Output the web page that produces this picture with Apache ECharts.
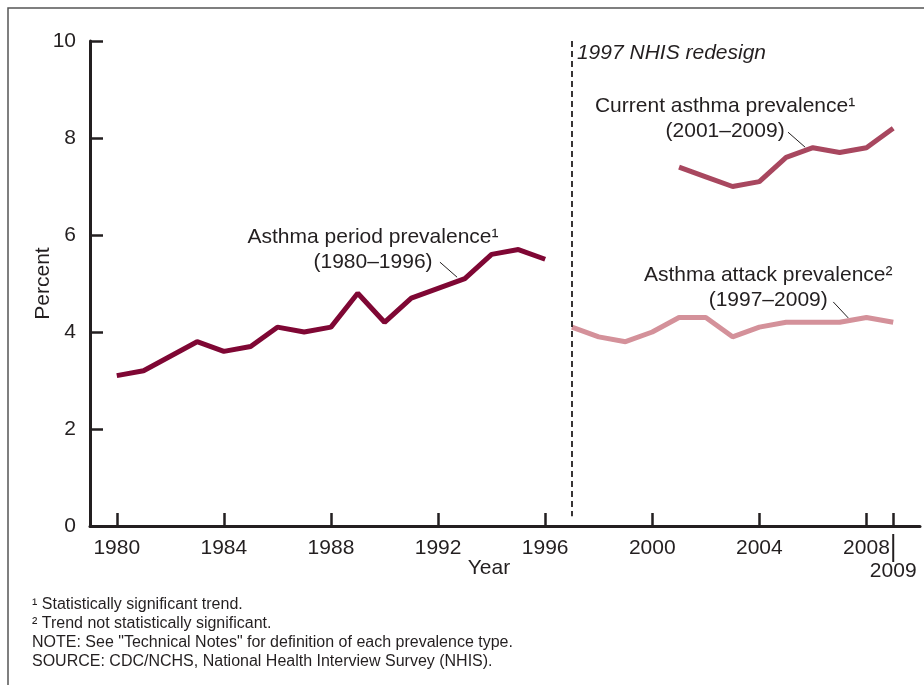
<!DOCTYPE html>
<html>
<head>
<meta charset="utf-8">
<script src="https://cdn.jsdelivr.net/npm/echarts@6/dist/echarts.min.js"></script>
<style>
html,body{margin:0;padding:0;background:#fff;}
#c{width:924px;height:685px;}
</style>
</head>
<body>
<div id="c"></div>
<script>
// ---- data ----
var periodYears = [1980,1981,1982,1983,1984,1985,1986,1987,1988,1989,1990,1991,1992,1993,1994,1995,1996];
var periodValues = [3.1,3.2,3.5,3.8,3.6,3.7,4.1,4.0,4.1,4.8,4.2,4.7,4.9,5.1,5.6,5.7,5.5];
var currentYears = [2001,2002,2003,2004,2005,2006,2007,2008,2009];
var currentValues = [7.4,7.2,7.0,7.1,7.6,7.8,7.7,7.8,8.2];
var attackYears = [1997,1998,1999,2000,2001,2002,2003,2004,2005,2006,2007,2008,2009];
var attackValues = [4.1,3.9,3.8,4.0,4.3,4.3,3.9,4.1,4.2,4.2,4.2,4.3,4.2];
var xTickValues = [1980,1984,1988,1992,1996,2000,2004,2008,2009];
var xLabelValues = [1980,1984,1988,1992,1996,2000,2004,2008];
var redesignYear = 1997;
var footnotes = [
  '\u00B9 Statistically significant trend.',
  '\u00B2 Trend not statistically significant.',
  'NOTE: See "Technical Notes" for definition of each prevalence type.',
  'SOURCE: CDC/NCHS, National Health Interview Survey (NHIS).'
];

function pairs(xs, ys){ return xs.map(function(x,i){return [x, ys[i]];}); }

var FONT = 'Liberation Sans, Arial, sans-serif';
var TXT = '#231f20';
var FS = 21;
var chart = echarts.init(document.getElementById('c'), null, {renderer:'canvas'});

var option = {
  animation:false,
  backgroundColor:'#fff',
  grid:{left:90, right:4, top:41, bottom:159, containLabel:false},
  xAxis:{
    type:'value', min:1979, max:2010,
    axisLine:{show:true, onZero:false, lineStyle:{color:TXT, width:3}},
    axisTick:{show:true, inside:true, length:13, customValues:xTickValues, lineStyle:{color:TXT, width:2.5}},
    axisLabel:{show:true, customValues:xLabelValues, margin:12, fontSize:FS, color:TXT, fontFamily:FONT,
      formatter:function(v){return String(v);}},
    splitLine:{show:false}
  },
  yAxis:{
    type:'value', min:0, max:10, interval:2,
    name:'Percent', nameLocation:'middle', nameGap:36, nameRotate:90, nameMoveOverlap:false,
    nameTextStyle:{fontSize:FS, color:TXT, fontFamily:FONT},
    axisLine:{show:true, lineStyle:{color:TXT, width:3}},
    axisTick:{show:true, inside:true, length:13, lineStyle:{color:TXT, width:2.5}},
    axisLabel:{margin:14, fontSize:FS, color:TXT, fontFamily:FONT},
    splitLine:{show:false}
  },
  series:[
    {type:'line', name:'Asthma period prevalence', data:pairs(periodYears, periodValues),
     showSymbol:false, lineStyle:{color:'#7f0734', width:5}, itemStyle:{color:'#7f0734'},
     markLine:{silent:true, symbol:'none', label:{show:false},
       lineStyle:{color:TXT, width:1.8, type:[6,4]},
       data:[[{coord:[redesignYear,10]},{coord:[redesignYear,0.2]}]]}},
    {type:'line', name:'Current asthma prevalence', data:pairs(currentYears, currentValues),
     showSymbol:false, lineStyle:{color:'#a8475f', width:5}, itemStyle:{color:'#a8475f'}},
    {type:'line', name:'Asthma attack prevalence', data:pairs(attackYears, attackValues),
     showSymbol:false, lineStyle:{color:'#d4919a', width:5}, itemStyle:{color:'#d4919a'}}
  ]
};
chart.setOption(option);

function px(x,y){ return chart.convertToPixel({xAxisIndex:0, yAxisIndex:0}, [x,y]); }

var g = [];
function text(x,y,str,opt){
  opt = opt || {};
  g.push({type:'text', x:x, y:y, style:{text:str, fill:TXT, fontSize:opt.size||FS, fontFamily:FONT,
    fontStyle:opt.italic?'italic':'normal', align:opt.align||'center', verticalAlign:'middle'}});
}
function line(p1,p2,w,color){
  g.push({type:'line', shape:{x1:p1[0],y1:p1[1],x2:p2[0],y2:p2[1]}, style:{stroke:color||TXT, lineWidth:w||1}});
}
// frame
g.push({type:'polyline', shape:{points:[[8,685],[8,8],[924,8]]}, style:{stroke:'#555', lineWidth:1.5, fill:null}});

// redesign label
var pr = px(redesignYear, 9.75);
text(pr[0]+5, pr[1], '1997 NHIS redesign', {italic:true, align:'left'});

// period annotation
var pa = px(1989.57, 5.69);
text(pa[0], pa[1]-12.5, 'Asthma period prevalence\u00B9');
text(pa[0], pa[1]+12.5, '(1980\u20131996)');
line(px(1992.07, 5.44), px(1992.71, 5.13));

// current annotation
var pc = px(2002.72, 8.40);
text(pc[0], pc[1]-12.5, 'Current asthma prevalence\u00B9');
text(pc[0], pc[1]+12.5, '(2001\u20132009)');
line(px(2005.07, 8.12), px(2005.71, 7.81));

// attack annotation
var pt = px(2004.33, 4.91);
text(pt[0], pt[1]-12.5, 'Asthma attack prevalence\u00B2');
text(pt[0], pt[1]+12.5, '(1997\u20132009)');
line(px(2006.76, 4.62), px(2007.32, 4.29));

// 2009 label with extended tick
var p09 = px(2009, 0);
line([p09[0], p09[1]+8], [p09[0], p09[1]+36], 2);
text(p09[0], p09[1]+45, '2009');

// Year axis title
var py = px(1993.9, 0);
text(py[0], py[1]+42, 'Year');

// footnotes
for (var i=0;i<footnotes.length;i++){
  g.push({type:'text', x:32, y:605+i*19, style:{text:footnotes[i], fill:TXT, fontSize:16, fontFamily:FONT, align:'left', verticalAlign:'middle'}});
}
chart.setOption({graphic:g});
</script>
</body>
</html>
